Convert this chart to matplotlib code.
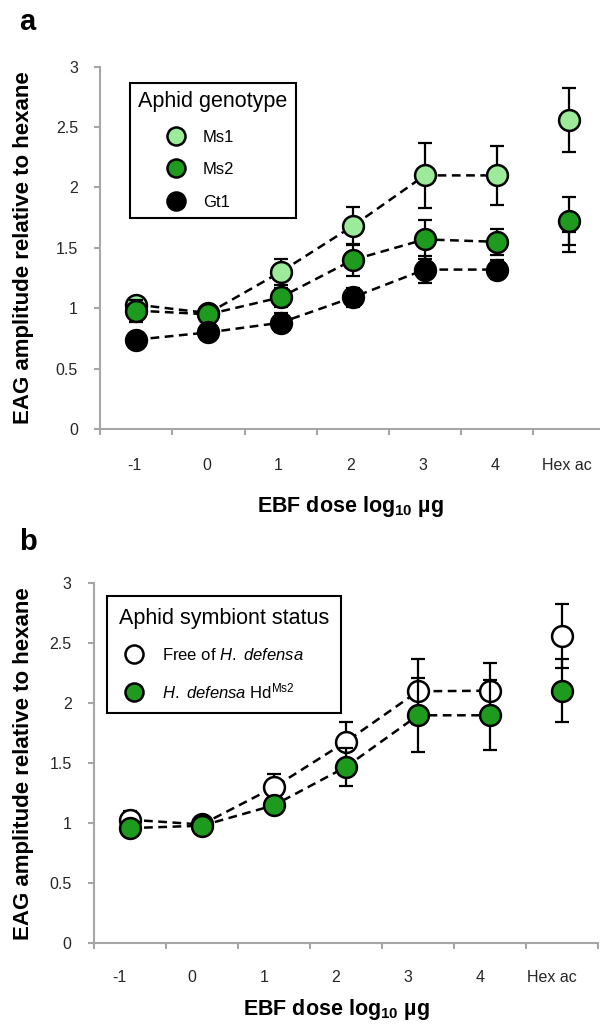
# EAG dose response - aphid genotype (a) and symbiont status (b)

import numpy as np
import matplotlib
matplotlib.use('Agg')
import matplotlib.pyplot as plt
import matplotlib.transforms as mtransforms
from matplotlib.lines import Line2D

plt.rcParams['font.family'] = ['Liberation Sans', 'DejaVu Sans']
plt.rcParams['mathtext.fontset'] = 'custom'
plt.rcParams['mathtext.rm'] = 'Liberation Sans'
plt.rcParams['mathtext.it'] = 'Liberation Sans:italic'
plt.rcParams['mathtext.bf'] = 'Liberation Sans:bold'

doses = ['-1', '0', '1', '2', '3', '4', 'Hex ac']
yticks = [0, 0.5, 1, 1.5, 2, 2.5, 3]

# panel a: genotypes (mean, SE)
ms1_mean = [1.03, 0.96, 1.30, 1.68, 2.10, 2.10, 2.56]
ms1_se = [0.05, 0.03, 0.11, 0.16, 0.27, 0.245, 0.265]
ms2_mean = [0.98, 0.95, 1.09, 1.40, 1.57, 1.55, 1.72]
ms2_se = [0.09, 0.04, 0.08, 0.13, 0.16, 0.11, 0.20]
gt1_mean = [0.74, 0.80, 0.88, 1.09, 1.32, 1.32, 1.55]
gt1_se = [0.04, 0.03, 0.08, 0.08, 0.11, 0.08, 0.085]

# panel b: symbiont status
free_mean = [1.03, 0.99, 1.30, 1.68, 2.10, 2.105, 2.56]
free_se = [0.07, 0.03, 0.11, 0.16, 0.27, 0.23, 0.27]
hd_mean = [0.96, 0.98, 1.15, 1.47, 1.90, 1.90, 2.105]
hd_se = [0.03, 0.03, 0.05, 0.16, 0.31, 0.29, 0.26]

light_green = '#9beb9b'
dark_green = '#1e9a1e'
axis_grey = '#a6a6a6'
text_col = '#262626'

fig = plt.figure(figsize=(6, 10.28), dpi=100)


def draw_series(ax, mean, se, color, z, hex_marker=True):
    x = np.arange(len(mean)) + 0.5
    mean = np.array(mean)
    ax.errorbar(x, mean, yerr=se, fmt='none', ecolor='black', elinewidth=1.6,
                capsize=4.7, capthick=1.6, zorder=z, clip_on=False)
    ax.plot(x[:-1], mean[:-1], ls=(0, (3.5, 2.2)), color='black', lw=1.8,
            zorder=z + 0.5)
    n = len(mean) if hex_marker else len(mean) - 1
    ax.plot(x[:n], mean[:n], ls='none', marker='o', ms=15, mfc=color,
            mec='black', mew=1.8, zorder=z + 1, clip_on=False)


def style_axes(ax, label_dx, tick_pad, ylab_x, xlab_xy):
    ax.set_xlim(0, 7)
    ax.set_ylim(0, 3)
    for s in ['top', 'right']:
        ax.spines[s].set_visible(False)
    for s in ['left', 'bottom']:
        ax.spines[s].set_color(axis_grey)
        ax.spines[s].set_linewidth(1.5)
    ax.set_xticks(range(8))
    ax.set_xticklabels([])
    ax.set_xticks(np.arange(len(doses)) + 0.5, minor=True)
    ax.set_xticklabels(doses, minor=True)
    ax.tick_params(axis='x', which='major', direction='out', length=4,
                   width=1.5, color=axis_grey)
    ax.tick_params(axis='x', which='minor', length=0, pad=tick_pad,
                   labelsize=11.5, labelcolor=text_col)
    ax.set_yticks(yticks)
    ax.set_yticklabels(['%g' % v for v in yticks])
    ax.tick_params(axis='y', direction='out', length=4, width=1.5,
                   color=axis_grey, pad=12, labelsize=11.5, labelcolor=text_col)
    offset = mtransforms.ScaledTranslation(label_dx / 100, 0, fig.dpi_scale_trans)
    for lab in ax.xaxis.get_minorticklabels():
        lab.set_transform(lab.get_transform() + offset)
    ax.set_ylabel('EAG amplitude relative to hexane', fontsize=16,
                  fontweight='bold')
    ax.yaxis.set_label_coords(ylab_x, 0.5)
    ax.yaxis.label.set_va('center')
    ax.set_xlabel(r'EBF dose log$_{\mathbf{10}}$ µg', fontsize=15.5,
                  fontweight='bold')
    ax.xaxis.set_label_coords(*xlab_xy)
    ax.xaxis.label.set_va('baseline')


# ---- panel a
ax1 = fig.add_axes([0.1672, 0.5827, 0.8412, 0.3524])
draw_series(ax1, ms1_mean, ms1_se, light_green, 2)
draw_series(ax1, ms2_mean, ms2_se, dark_green, 4)
draw_series(ax1, gt1_mean, gt1_se, 'black', 6, hex_marker=False)
style_axes(ax1, -2, 21, -0.153, (0.495, -0.229))

h1 = [Line2D([], [], ls='none', marker='o', ms=13, mfc=c, mec='black', mew=1.8)
      for c in [light_green, dark_green, 'black']]
leg1 = ax1.legend(h1, ['Ms1', 'Ms2', 'Gt1'], title='Aphid genotype',
                  loc='upper left', bbox_to_anchor=(0.2167, 0.9193),
                  bbox_transform=fig.transFigure, borderaxespad=0,
                  fontsize=12, title_fontsize=15.5, fancybox=False,
                  edgecolor='black', framealpha=1, borderpad=0.5,
                  labelspacing=1.05, handlelength=4.49, handletextpad=-0.63,
                  alignment='left')
leg1.get_frame().set_linewidth(1.5)

# ---- panel b
ax2 = fig.add_axes([0.1563, 0.0824, 0.8407, 0.3502])
draw_series(ax2, free_mean, free_se, 'white', 2)
draw_series(ax2, hd_mean, hd_se, dark_green, 4)
style_axes(ax2, -10, 19, -0.140, (0.4815, -0.199))

h2 = [Line2D([], [], ls='none', marker='o', ms=13, mfc=c, mec='black', mew=1.8)
      for c in ['white', dark_green]]
leg2 = ax2.legend(h2, [r'Free of $\mathit{H.\ defensa}$',
                       r'$\mathit{H.\ defensa}$ Hd$^{\mathrm{Ms2}}$'],
                  title='Aphid symbiont status',
                  loc='upper left', bbox_to_anchor=(0.1783, 0.4202),
                  bbox_transform=fig.transFigure, borderaxespad=0,
                  fontsize=12, title_fontsize=15.5, fancybox=False,
                  edgecolor='black', framealpha=1, borderpad=0.7,
                  labelspacing=1.1, handlelength=1.84, handletextpad=0.77,
                  alignment='left')
leg2.get_frame().set_linewidth(1.5)

fig.text(19 / 600, 1 - 30 / 1028, 'a', fontsize=21, fontweight='bold', va='baseline')
fig.text(19 / 600, 1 - 550 / 1028, 'b', fontsize=21, fontweight='bold', va='baseline')

fig.savefig('out.png', dpi=100)
